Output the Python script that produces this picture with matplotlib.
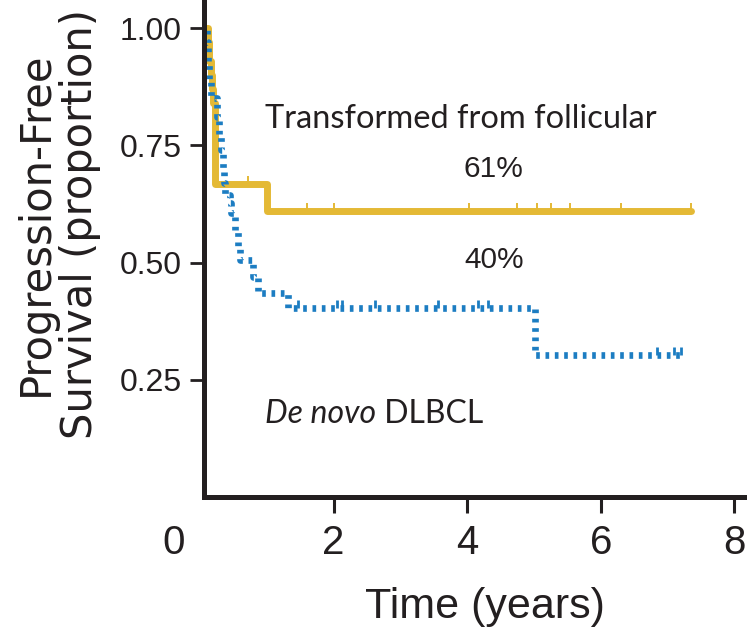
import numpy as np
import matplotlib
matplotlib.use('Agg')
import matplotlib.pyplot as plt
from matplotlib.path import Path

# Kaplan-Meier step points (years, proportion progression-free)
transformed_t = [0, 0.12, 0.14, 0.16, 0.18, 0.20, 0.22, 1.0, 7.35]
transformed_s = [1.0, 0.97, 0.93, 0.90, 0.87, 0.84, 0.667, 0.61, 0.61]
transformed_censor = [0.72, 1.6, 2.0, 4.03, 4.75, 5.04, 5.25, 5.54, 6.3, 7.35]

denovo_t = [0, 0.10, 0.12, 0.14, 0.16, 0.26, 0.29, 0.32, 0.34, 0.36, 0.38,
            0.45, 0.47, 0.52, 0.57, 0.60, 0.80, 0.87, 1.32, 5.02, 7.23]
denovo_s = [1.0, 0.97, 0.93, 0.89, 0.85, 0.81, 0.77, 0.74, 0.70, 0.67, 0.644,
            0.627, 0.605, 0.565, 0.53, 0.505, 0.47, 0.435, 0.403, 0.303, 0.303]
denovo_censor = [1.47, 2.05, 2.12, 2.62, 3.56, 4.16, 4.31, 6.84, 7.1, 7.2]

x_ticks = [2, 4, 6, 8]
y_ticks = [0.25, 0.50, 0.75, 1.00]
y_ticklabels = ['0.25', '0.50', '0.75', '1.00']

label_transformed = 'Transformed from follicular'
label_denovo = 'De novo'
pct_transformed = '61%'
pct_denovo = '40%'

YELLOW = '#E4B935'
BLUE = '#1C7DC2'
INK = '#231F20'
SANS = ['Liberation Sans', 'DejaVu Sans']
NOTE = ['Lato', 'DejaVu Sans']


def survival_at(times, surv, points):
    idx = np.searchsorted(times, points, side='right') - 1
    return np.asarray(surv)[idx]


# censor tick that only points upward from the curve
up_tick = Path([(0, 0), (0, 1)], [Path.MOVETO, Path.LINETO])

fig = plt.figure(figsize=(7.47, 6.36), dpi=100)
ax = fig.add_axes([204 / 747, 139 / 636, 543 / 747, 497 / 636])

ax.step(transformed_t, transformed_s, where='post', color=YELLOW, lw=5,
        solid_joinstyle='round', solid_capstyle='round')
ax.plot(transformed_censor, survival_at(transformed_t, transformed_s, transformed_censor),
        ls='none', marker=up_tick, markersize=12, markeredgewidth=1.4,
        markeredgecolor=YELLOW)

ax.step(denovo_t, denovo_s, where='post', color=BLUE, lw=4.8,
        dashes=(0.55, 0.85), dash_capstyle='butt')
ax.plot(denovo_censor, survival_at(denovo_t, denovo_s, denovo_censor),
        ls='none', marker=up_tick, markersize=11, markeredgewidth=2.0,
        markeredgecolor=BLUE)

ax.set_xlim(0.06, 8.19)
ax.set_ylim(0, 1.06)

for side in ['top', 'right']:
    ax.spines[side].set_visible(False)
for side in ['left', 'bottom']:
    ax.spines[side].set_linewidth(3.6)
    ax.spines[side].set_color(INK)

ax.set_xticks(x_ticks)
ax.set_xticklabels([str(v) for v in x_ticks], family=SANS, fontsize=29, color=INK)
ax.set_yticks(y_ticks)
ax.set_yticklabels(y_ticklabels, family=SANS, fontsize=23, color=INK)
ax.tick_params(axis='x', length=11.5, width=2.2, pad=8, colors=INK)
ax.tick_params(axis='y', length=10, width=2.0, pad=6, colors=INK)

# origin label sits left of the axis corner
ax.annotate('0', xy=(0, 0), xycoords='data', xytext=(-19, -19.5),
            textcoords='offset points', ha='center', va='top',
            family=SANS, fontsize=29, color=INK, annotation_clip=False)

fig.text(485 / 747, 1 - 607 / 636, 'Time (years)', ha='center', va='center',
         family=SANS, fontsize=31, color=INK)
fig.text(58 / 747, 1 - 224 / 636, 'Progression-Free\nSurvival (proportion)',
         rotation=90, ha='center', va='center', multialignment='center',
         linespacing=1.05, family=['DejaVu Sans'], fontsize=30, color=INK)

ax.text(0.97, 0.787, label_transformed, ha='left', va='baseline',
        family=NOTE, fontsize=23.5, color=INK)
ax.text(4.40, 0.70, pct_transformed, ha='center', va='center',
        family=SANS, fontsize=21.5, color=INK)
ax.text(4.40, 0.505, pct_denovo, ha='center', va='center',
        family=SANS, fontsize=21.5, color=INK)
t_denovo = ax.text(0.97, 0.158, label_denovo, ha='left', va='baseline',
                   family=NOTE, fontsize=23, style='italic', color=INK)
ax.annotate(' DLBCL', xy=(1, 0), xycoords=t_denovo, va='bottom', ha='left',
            family=NOTE, fontsize=23, color=INK)

fig.savefig('out.png', dpi=100)
